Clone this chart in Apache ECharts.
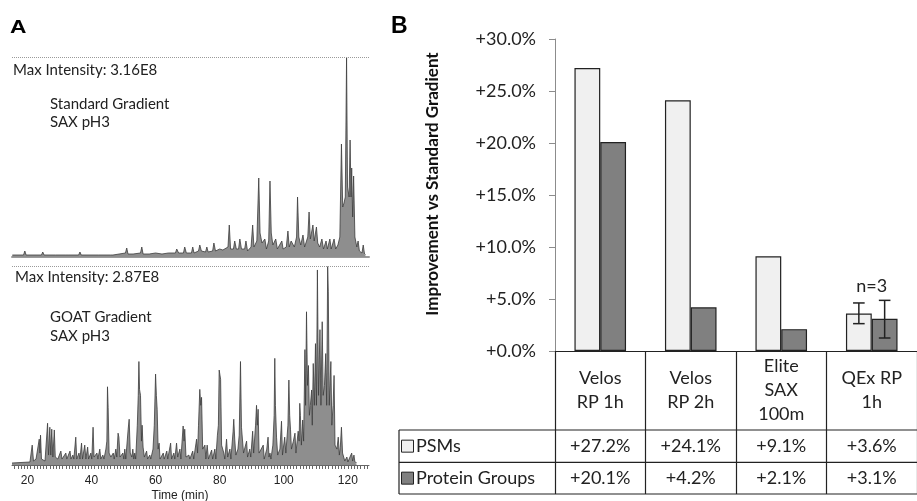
<!DOCTYPE html>
<html><head><meta charset="utf-8">
<script src="https://cdn.jsdelivr.net/npm/echarts@6/dist/echarts.min.js"></script>
<style>html,body{margin:0;padding:0;background:#fff}#c{width:917px;height:501px}</style>
</head><body><div id="c"></div>
<script>
// ---- Panel A data: relative intensity (% of each run's max) vs time (min)
const standardTrace = [[15.3,1],[18.8,1],[19.2,3],[19.6,1],[24.4,1],[24.8,2.5],[25.2,1],[28.0,1],[28.4,2],[28.8,1],[32.0,1],[32.3,2],[32.7,1],[36.0,1],[36.4,2.5],[36.8,1],[41.4,1],[41.7,2],[42.1,1],[46.0,1],[46.3,2],[46.7,1],[50.6,2],[51.0,4.5],[51.4,1.5],[53.0,1.5],[55.3,2],[55.7,5],[56.1,1.5],[58.0,1.5],[60.0,2],[62.0,1.5],[64.0,2],[66.2,2],[66.6,4],[67.2,2],[68.7,2],[69.1,5],[69.6,2],[71.2,2],[71.6,5],[72.0,2],[73.4,3],[73.8,6],[74.3,3],[75.6,2.5],[76.0,5],[76.4,2.5],[77.8,3],[78.2,7],[78.7,3],[80.0,4],[81.0,3.5],[82.6,5],[83.0,16],[83.4,4],[84.3,4],[84.7,8],[85.2,4],[85.9,4],[86.3,9],[86.8,4],[87.8,4],[88.2,8],[88.7,3],[89.8,5],[90.3,16],[90.7,5],[91.6,8],[92.2,39.5],[92.6,12],[93.2,7],[94.1,9],[94.6,4],[95.3,8],[95.7,38],[96.1,12],[96.6,6],[97.5,9],[98.0,4],[99.4,8],[99.8,4],[100.8,5],[101.3,13],[101.7,5],[102.3,8],[102.8,9],[103.3,5],[104.0,10],[104.3,30],[104.7,10],[105.3,6],[106.0,11],[106.5,5],[107.5,10],[107.9,22.5],[108.3,9],[108.8,8],[109.1,16],[109.5,8],[110.2,15],[110.6,7],[111.2,5],[111.9,9],[112.4,4],[113.2,8],[113.6,4],[114.4,9],[114.8,4],[115.7,9],[116.2,4],[116.9,6],[117.5,10],[118.0,56.5],[118.4,25],[118.8,27],[119.2,30],[119.6,100],[119.9,35],[120.1,36],[120.4,30],[120.7,58.5],[121.0,30],[121.2,44.5],[121.5,20],[121.8,40.5],[122.2,10],[122.8,5],[123.2,8],[123.6,3],[124.4,2],[124.8,6],[125.2,1.5],[125.6,1]];
const goatTrace = [[15.2,1],[20.8,1.5],[21.5,10],[21.9,2],[22.7,3],[23.7,13],[23.9,6],[24.1,15],[24.4,3],[24.9,4],[25.5,2],[26.3,21],[26.6,5],[27.0,19],[27.3,5],[27.6,18],[27.95,4],[28.4,17.6],[28.7,4],[29.5,3],[30.45,7],[30.8,3],[32.0,6],[32.3,3],[33.3,7],[33.6,3],[34.2,5],[34.5,3],[35.1,14],[35.4,3],[36.1,6],[36.4,3],[36.9,11],[37.2,3],[37.9,10],[38.25,3],[38.8,9],[39.1,3],[39.8,6],[40.1,3],[40.5,19],[40.8,4],[41.7,6],[42.0,3],[42.6,8],[42.9,3],[43.55,5],[43.9,3],[44.5,8],[44.8,12],[45.0,39.3],[45.2,29],[45.5,6],[46.05,4],[46.8,6],[47.1,3],[47.6,8],[47.9,4],[48.3,16],[48.55,14],[48.9,4],[49.8,6],[50.1,3],[50.4,8],[50.7,3],[51.45,18],[51.76,23],[52.1,6],[52.6,4],[52.9,8],[53.2,3],[53.5,6],[53.8,3],[54.3,20],[54.6,35],[54.8,52],[55.0,38],[55.3,35],[55.6,12],[55.8,20],[56.1,9],[56.5,4],[57.2,7],[57.5,3],[58.2,5],[58.5,3],[59.2,8],[59.6,20],[60.0,45.7],[60.25,35],[60.5,28],[60.8,8],[61.1,11],[61.4,3],[62.4,6],[62.7,3],[63.5,7],[63.8,3],[64.7,11],[65.0,3],[65.7,6],[66.0,3],[66.55,11],[66.9,4],[67.6,8],[67.9,3],[68.6,19.6],[68.9,12],[69.1,18],[69.5,4],[70.4,5],[70.7,3],[71.6,7],[71.9,3],[72.8,13],[73.1,6],[73.4,20],[73.8,38],[74.1,30],[74.35,34],[74.7,8],[75.4,10],[75.7,3],[76.1,10],[76.5,3],[77.5,7.5],[77.8,3],[78.5,8],[78.8,3],[79.3,15],[79.6,20],[79.85,47.7],[80.3,43],[80.6,10],[81.3,6],[81.6,3],[82.15,13],[82.5,4],[83.2,8],[83.5,3],[84.2,17],[84.4,23],[84.7,13],[85.05,5],[85.7,8],[86.1,15],[86.5,52],[86.8,19],[87.1,19],[87.45,6],[88.4,12],[88.7,4],[89.4,8],[89.7,4],[90.3,17],[90.6,6],[91.2,20],[91.5,30],[91.75,20],[92.0,28],[92.3,6],[92.85,6],[93.6,10],[93.9,3],[94.7,8],[95.1,14],[95.4,4],[95.7,6],[96.0,3],[96.6,10],[97.0,25],[97.2,53.6],[97.4,30],[97.75,14],[98.1,5],[98.8,8],[99.3,22],[99.6,5],[100.3,14],[100.65,6],[101.3,20],[101.6,42.7],[101.85,25],[102.1,18],[102.4,8],[103.0,12],[103.5,16],[103.8,6],[104.5,17],[104.8,12],[105.0,31],[105.2,25],[105.5,10],[105.9,22.6],[106.2,12],[106.6,58],[106.8,30],[107.1,77],[107.4,40],[107.7,50],[108.0,25],[108.3,30],[108.7,37.7],[108.9,20],[109.2,51],[109.55,30],[109.9,61],[110.2,30],[110.5,98],[110.85,35],[111.3,68],[111.6,30],[112.0,72],[112.3,35],[112.7,40],[113.1,56],[113.4,30],[113.7,99.7],[113.9,87],[114.2,30],[114.7,52],[115.0,20],[115.4,30],[115.7,45],[116.0,10],[116.6,8],[117.0,14],[117.35,5],[117.65,9],[118.0,19],[118.35,6],[118.75,5],[119.05,2],[119.7,4],[120.0,1.5],[121.2,6],[121.5,2],[121.9,5],[122.2,1.5],[122.8,1]];
const timeLabels = [20, 40, 60, 80, 100, 120];
const maxIntensityLabels = ['Max Intensity: 3.16E8', 'Max Intensity: 2.87E8'];
const runLabels = [['Standard Gradient', 'SAX pH3'], ['GOAT Gradient', 'SAX pH3']];

// ---- Panel B data
const methods = ['Velos\nRP 1h', 'Velos\nRP 2h', 'Elite\nSAX\n100m', 'QEx RP\n1h'];
const psmValues = [27.2, 24.1, 9.1, 3.6];
const pgValues = [20.1, 4.2, 2.1, 3.1];
const psmError = [[3, 2.63, 4.62]];
const pgError = [[3, 1.25, 4.87]];
const nLabel = [[3, 6.25, 'n=3']];
const seriesNames = ['PSMs', 'Protein Groups'];

const minorTicks = [];
for (let t = 16; t <= 126; t++) minorTicks.push(t);

const FONT = 'Lato';
const chart = echarts.init(document.getElementById('c'));
const fmtPct = v => '+' + Number(v).toFixed(1) + '%';

function errRender(side) {
  return function (params, api) {
    const c = api.value(0);
    const lo = api.coord([c, api.value(1)]);
    const hi = api.coord([c, api.value(2)]);
    const band = api.size([1, 0])[0];
    const bw = band * (1 - 0.43) / 2;
    const x = lo[0] + side * bw / 2;
    const cap = 5.8;
    const st = { stroke: '#222', lineWidth: 1.5 };
    return { type: 'group', children: [
      { type: 'line', shape: { x1: x, y1: lo[1], x2: x, y2: hi[1] }, style: st },
      { type: 'line', shape: { x1: x - cap, y1: lo[1], x2: x + cap, y2: lo[1] }, style: st },
      { type: 'line', shape: { x1: x - cap, y1: hi[1], x2: x + cap, y2: hi[1] }, style: st }
    ]};
  };
}

const traceSeries = (data, idx) => ({
  type: 'line', xAxisIndex: idx, yAxisIndex: idx, data: data, symbol: 'none',
  lineStyle: { color: '#3c3c3c', width: 0.8 },
  areaStyle: { color: '#8e8e8e', opacity: 1 },
  silent: true, animation: false,
  markLine: { silent: true, symbol: 'none', animation: false, label: { show: false },
    lineStyle: { type: 'dotted', color: '#9a9a9a', width: 1 }, data: [{ yAxis: 100 }] }
});

chart.setOption({
  animation: false,
  textStyle: { fontFamily: FONT },
  grid: [
    { left: 12, top: 57, width: 357, height: 200 },
    { left: 12, top: 266, width: 357, height: 199 },
    { left: 555, top: 39, width: 369, height: 312 }
  ],
  xAxis: [
    { type: 'value', gridIndex: 0, min: 15.2, max: 126.6,
      axisLine: { show: true, lineStyle: { color: '#9a9a9a', width: 2 } },
      axisTick: { show: false }, axisLabel: { show: false }, splitLine: { show: false } },
    { type: 'value', gridIndex: 1, min: 15.2, max: 126.6,
      axisLine: { show: true, lineStyle: { color: '#666', width: 1 } },
      axisTick: { show: true, customValues: minorTicks, length: 4, lineStyle: { color: '#666', width: 1 } },
      axisLabel: { show: true, customValues: timeLabels, margin: 10, fontFamily: 'Liberation Sans', fontSize: 12, color: '#222' },
      splitLine: { show: false } },
    { type: 'category', gridIndex: 2, data: methods,
      axisLine: { show: true, lineStyle: { color: '#222', width: 1.2 } },
      axisTick: { show: true, alignWithLabel: false, length: 143, lineStyle: { color: '#222', width: 1.2 } },
      axisLabel: { show: true, interval: 0, margin: 39, verticalAlign: 'middle', fontFamily: FONT, fontSize: 18, lineHeight: 24, color: '#222' } }
  ],
  yAxis: [
    { type: 'value', gridIndex: 0, min: 0, max: 100, show: false },
    { type: 'value', gridIndex: 1, min: 0, max: 100, show: false },
    { type: 'value', gridIndex: 2, min: 0, max: 30, interval: 5,
      axisLine: { show: true, lineStyle: { color: '#8c8c8c', width: 1 } },
      axisTick: { show: true, length: 6, lineStyle: { color: '#8c8c8c', width: 1 } },
      axisLabel: { formatter: fmtPct, margin: 19, fontFamily: FONT, fontSize: 18, color: '#222' },
      splitLine: { show: false } }
  ],
  series: [
    traceSeries(standardTrace, 0),
    traceSeries(goatTrace, 1),
    { type: 'bar', name: seriesNames[0], xAxisIndex: 2, yAxisIndex: 2, data: psmValues,
      barGap: '0%', barCategoryGap: '43%',
      itemStyle: { color: '#f0f0f0', borderColor: '#222', borderWidth: 1.2 } },
    { type: 'bar', name: seriesNames[1], xAxisIndex: 2, yAxisIndex: 2, data: pgValues,
      barGap: '0%', barCategoryGap: '43%',
      itemStyle: { color: '#808080', borderColor: '#222', borderWidth: 1.2 } },
    { type: 'custom', xAxisIndex: 2, yAxisIndex: 2, data: psmError, renderItem: errRender(-1), z: 5, encode: { x: 0, y: [1, 2] } },
    { type: 'custom', xAxisIndex: 2, yAxisIndex: 2, data: pgError, renderItem: errRender(1), z: 5, encode: { x: 0, y: [1, 2] } },
    { type: 'custom', xAxisIndex: 2, yAxisIndex: 2, data: nLabel, z: 5, encode: { x: 0, y: 1 },
      renderItem: function (params, api) {
        const p = api.coord([api.value(0), api.value(1)]);
        return { type: 'text', x: p[0], y: p[1], style: { text: nLabel[params.dataIndex][2], fill: '#222',
          font: '18px ' + FONT, align: 'center', verticalAlign: 'middle' } };
      } }
  ]
});

// ---- Texts and table built from the arrays, aligned with the category axis
const g = [];
g.push({ type: 'text', x: 10, y: 28, scaleX: 1.2, style: { text: 'A', font: 'bold 19px "Liberation Sans"', fill: '#000', verticalAlign: 'middle' } });
g.push({ type: 'text', x: 391, y: 27, style: { text: 'B', font: 'bold 23px "Liberation Sans"', fill: '#000', verticalAlign: 'middle' } });
const maxY = [70, 277.5], runY = [[104, 122], [317, 336]], maxX = [13, 15];
for (let i = 0; i < 2; i++) {
  g.push({ type: 'text', x: maxX[i], y: maxY[i], style: { text: maxIntensityLabels[i], font: '15px ' + FONT, fill: '#222', verticalAlign: 'middle' } });
  for (let j = 0; j < 2; j++)
    g.push({ type: 'text', x: 50, y: runY[i][j], style: { text: runLabels[i][j], font: '15px ' + FONT, fill: '#222', verticalAlign: 'middle' } });
}
g.push({ type: 'text', x: 180, y: 496, style: { text: 'Time (min)', font: '12px "Liberation Sans"', fill: '#222', align: 'center', verticalAlign: 'middle' } });
g.push({ type: 'text', x: 433, y: 184, rotation: Math.PI / 2,
  style: { text: 'Improvement vs Standard Gradient', font: 'bold 17px ' + FONT, fill: '#111', align: 'center', verticalAlign: 'middle' } });

const c0 = chart.convertToPixel({ xAxisIndex: 2 }, 0);
const c1 = chart.convertToPixel({ xAxisIndex: 2 }, 1);
const band = c1 - c0;
const gridRight = c0 - band / 2 + band * methods.length;
const tableLeft = 399;
const rowLines = [430, 462.3, 494];
const lineSt = { stroke: '#222', lineWidth: 1.2 };
rowLines.forEach(y => g.push({ type: 'line', shape: { x1: tableLeft, y1: y, x2: gridRight + 5, y2: y }, style: lineSt }));
g.push({ type: 'line', shape: { x1: tableLeft, y1: rowLines[0], x2: tableLeft, y2: rowLines[2] }, style: lineSt });
const rows = [psmValues, pgValues];
const swatch = ['#f0f0f0', '#808080'];
for (let r = 0; r < 2; r++) {
  const cy = (rowLines[r] + rowLines[r + 1]) / 2;
  g.push({ type: 'rect', shape: { x: 401.5, y: cy - 6, width: 12, height: 12 }, style: { fill: swatch[r], stroke: '#222', lineWidth: 1 } });
  g.push({ type: 'text', x: 416, y: cy, style: { text: seriesNames[r], font: '18px ' + FONT, fill: '#222', verticalAlign: 'middle' } });
  rows[r].forEach((v, i) => {
    const cx = chart.convertToPixel({ xAxisIndex: 2 }, i);
    g.push({ type: 'text', x: cx, y: cy, style: { text: fmtPct(v), font: '18px ' + FONT, fill: '#222', align: 'center', verticalAlign: 'middle' } });
  });
}
chart.setOption({ graphic: g });
</script>
</body></html>
